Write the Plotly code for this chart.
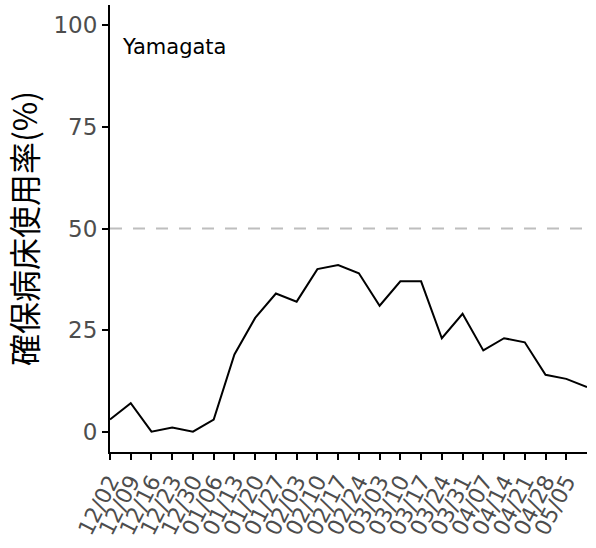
import pandas as pd
import plotly.graph_objects as go

# weekly bed occupancy (%) for Yamagata
dates = pd.date_range("2020-12-02", periods=24, freq="7D")
occupancy = [3, 7, 0, 1, 0, 3, 19, 28, 34, 32, 40, 41, 39, 31, 37, 37, 23, 29, 20, 23, 22, 14, 13, 11]
tick_dates = dates[:23]
tick_labels = [d.strftime("%m/%d") for d in tick_dates]
threshold = 50
region = "Yamagata"

fig = go.Figure()
fig.add_trace(go.Scatter(x=dates, y=occupancy, mode="lines",
                         line=dict(color="black", width=2), showlegend=False))
fig.add_hline(y=threshold, line=dict(color="#bebebe", width=2, dash="12px,11px"), layer="below")

fig.add_annotation(text=region, xref="paper", yref="paper", x=0.021, y=0.906,
                   xanchor="left", yanchor="middle", showarrow=False,
                   font=dict(family="DejaVu Sans", size=21, color="black"))

fig.update_xaxes(range=[dates[0], dates[-1]], tickvals=tick_dates, ticktext=tick_labels,
                 tickangle=-63, showline=True, linecolor="black", linewidth=2,
                 ticks="outside", ticklen=6, tickwidth=2, tickcolor="black",
                 showgrid=False, zeroline=False, automargin=False,
                 tickfont=dict(family="DejaVu Sans", size=22, color="#4d4d4d"))
fig.update_yaxes(range=[-5, 105], tickvals=[0, 25, 50, 75, 100],
                 showline=True, linecolor="black", linewidth=2,
                 ticks="outside", ticklen=6, tickwidth=2, tickcolor="black",
                 showgrid=False, zeroline=False, automargin=False,
                 tickfont=dict(family="DejaVu Sans", size=23, color="#4d4d4d"),
                 title=dict(text="確保病床使用率(%)", standoff=12,
                            font=dict(family="Noto Sans CJK JP", size=32, color="black")))

fig.update_layout(width=596, height=548, plot_bgcolor="white", paper_bgcolor="white",
                  margin=dict(l=110, r=9, t=5, b=96))
fig.write_html("out.html", config={"displayModeBar": False},
               post_script="document.body.style.margin='0';")
